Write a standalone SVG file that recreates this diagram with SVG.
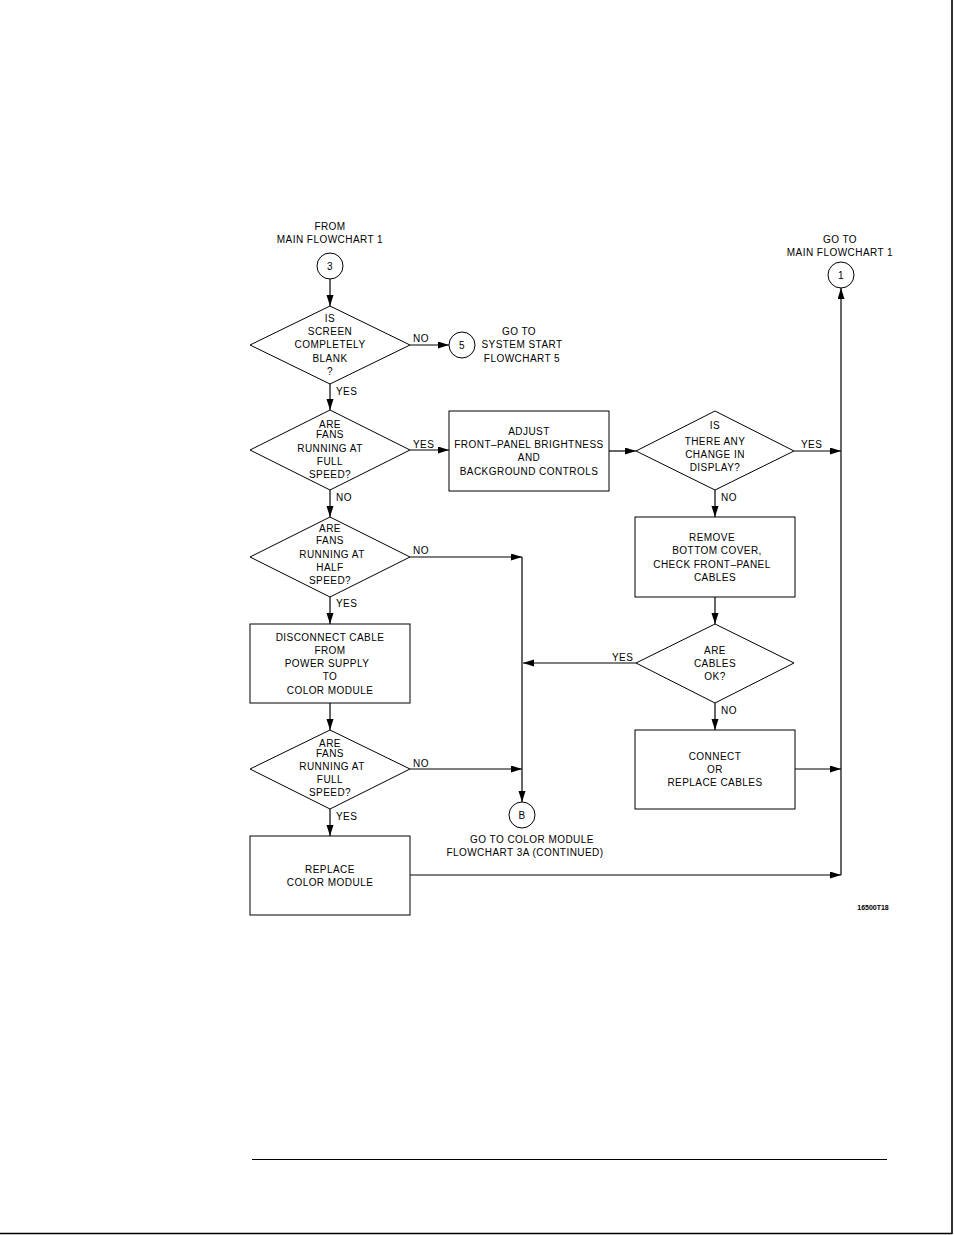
<svg xmlns="http://www.w3.org/2000/svg" width="954" height="1235" viewBox="0 0 954 1235">
<defs>
<marker id="ah" markerUnits="userSpaceOnUse" markerWidth="12" markerHeight="8" refX="11" refY="3.5" orient="auto">
<path d="M0,0 L11,3.5 L0,7 z" fill="#000"/>
</marker>
<style>
text{font-family:"Liberation Sans",Arial,sans-serif;font-size:10px;letter-spacing:0.45px;fill:#000;text-anchor:middle}
.lbl{text-anchor:start}
.shape{fill:#fff;stroke:#000;stroke-width:1}
.c{fill:none;stroke:#000;stroke-width:1.2}
.a{marker-end:url(#ah)}
.fig{font-size:7px;font-weight:bold;letter-spacing:0}
</style>
</defs>
<rect width="954" height="1235" fill="#fff"/>
<g id="page">
<line x1="952" y1="0" x2="952" y2="1234" stroke="#000" stroke-width="1.6"/>
<line x1="0" y1="1233.5" x2="952" y2="1233.5" stroke="#000" stroke-width="1.6"/>
<line x1="252" y1="1159.5" x2="887" y2="1159.5" stroke="#000" stroke-width="1.2"/>
</g>
<g id="connectors">
<line class="c a" x1="330" y1="279" x2="330" y2="306"/>
<line class="c a" x1="410" y1="345" x2="449" y2="345"/>
<line class="c a" x1="330" y1="384" x2="330" y2="410"/>
<line class="c a" x1="410" y1="450" x2="449" y2="450"/>
<line class="c a" x1="609" y1="451" x2="636" y2="451"/>
<line class="c a" x1="794" y1="451" x2="841" y2="451"/>
<line class="c a" x1="715" y1="490" x2="715" y2="517"/>
<line class="c a" x1="715" y1="597" x2="715" y2="624"/>
<line class="c a" x1="636" y1="663" x2="523" y2="663"/>
<line class="c a" x1="715" y1="703" x2="715" y2="730"/>
<line class="c a" x1="795" y1="769" x2="841" y2="769"/>
<line class="c a" x1="330" y1="490" x2="330" y2="517"/>
<line class="c a" x1="410" y1="557" x2="522" y2="557"/>
<line class="c a" x1="522" y1="557" x2="522" y2="802"/>
<line class="c a" x1="330" y1="597" x2="330" y2="624"/>
<line class="c a" x1="330" y1="703" x2="330" y2="730"/>
<line class="c a" x1="410" y1="769" x2="522" y2="769"/>
<line class="c a" x1="330" y1="809" x2="330" y2="836"/>
<line class="c a" x1="410" y1="875" x2="841" y2="875"/>
<line class="c a" x1="841" y1="875" x2="841" y2="288"/>
<text class="lbl" x="413" y="342">NO</text>
<text class="lbl" x="336" y="395">YES</text>
<text class="lbl" x="413" y="448">YES</text>
<text class="lbl" x="801" y="448">YES</text>
<text class="lbl" x="336" y="501">NO</text>
<text class="lbl" x="721" y="501">NO</text>
<text class="lbl" x="413" y="554">NO</text>
<text class="lbl" x="336" y="607">YES</text>
<text class="lbl" x="612" y="661">YES</text>
<text class="lbl" x="721" y="714">NO</text>
<text class="lbl" x="413" y="767">NO</text>
<text class="lbl" x="336" y="820">YES</text>
</g>
<g id="start3">
<text x="330" y="230">FROM</text>
<text x="330" y="243">MAIN FLOWCHART 1</text>
<circle class="shape" cx="330" cy="266" r="13"/>
<text x="330" y="270">3</text>
</g>
<g id="d1">
<polygon class="shape" points="330,306 410,345 330,384 250,345"/>
<text x="330" y="322">IS</text>
<text x="330" y="335">SCREEN</text>
<text x="330" y="348">COMPLETELY</text>
<text x="330" y="362">BLANK</text>
<text x="330" y="375">?</text>
</g>
<g id="goto5">
<circle class="shape" cx="462" cy="345" r="13"/>
<text x="462" y="349">5</text>
<text x="519" y="335">GO TO</text>
<text x="522" y="348">SYSTEM START</text>
<text x="522" y="362">FLOWCHART 5</text>
</g>
<g id="d2">
<polygon class="shape" points="330,410 410,450 330,490 250,450"/>
<text x="330" y="428">ARE</text>
<text x="330" y="438">FANS</text>
<text x="330" y="452">RUNNING AT</text>
<text x="330" y="465">FULL</text>
<text x="330" y="478">SPEED?</text>
</g>
<g id="adjust">
<rect class="shape" x="449" y="411" width="160" height="80"/>
<text x="529" y="435">ADJUST</text>
<text x="529" y="448">FRONT–PANEL BRIGHTNESS</text>
<text x="529" y="461">AND</text>
<text x="529" y="475">BACKGROUND CONTROLS</text>
</g>
<g id="d3">
<polygon class="shape" points="715,411 794,451 715,490 636,451"/>
<text x="715" y="429">IS</text>
<text x="715" y="445">THERE ANY</text>
<text x="715" y="458">CHANGE IN</text>
<text x="715" y="471">DISPLAY?</text>
</g>
<g id="goto1">
<text x="840" y="243">GO TO</text>
<text x="840" y="256">MAIN FLOWCHART 1</text>
<circle class="shape" cx="841" cy="275" r="13"/>
<text x="841" y="279">1</text>
</g>
<g id="remove">
<rect class="shape" x="635" y="517" width="160" height="80"/>
<text x="712" y="541">REMOVE</text>
<text x="717" y="554">BOTTOM COVER,</text>
<text x="712" y="568">CHECK FRONT–PANEL</text>
<text x="715" y="581">CABLES</text>
</g>
<g id="d4">
<polygon class="shape" points="715,624 794,663 715,703 636,663"/>
<text x="715" y="654">ARE</text>
<text x="715" y="667">CABLES</text>
<text x="715" y="680">OK?</text>
</g>
<g id="connect">
<rect class="shape" x="635" y="730" width="160" height="79"/>
<text x="715" y="760">CONNECT</text>
<text x="715" y="773">OR</text>
<text x="715" y="786">REPLACE CABLES</text>
</g>
<g id="d5">
<polygon class="shape" points="330,517 410,557 330,597 250,557"/>
<text x="330" y="532">ARE</text>
<text x="330" y="544">FANS</text>
<text x="332" y="558">RUNNING AT</text>
<text x="330" y="571">HALF</text>
<text x="330" y="584">SPEED?</text>
</g>
<g id="disconnect">
<rect class="shape" x="250" y="624" width="160" height="79"/>
<text x="330" y="641">DISCONNECT CABLE</text>
<text x="330" y="654">FROM</text>
<text x="327" y="667">POWER SUPPLY</text>
<text x="330" y="680">TO</text>
<text x="330" y="694">COLOR MODULE</text>
</g>
<g id="d6">
<polygon class="shape" points="330,730 410,769 330,809 250,769"/>
<text x="330" y="747">ARE</text>
<text x="330" y="757">FANS</text>
<text x="332" y="770">RUNNING AT</text>
<text x="330" y="783">FULL</text>
<text x="330" y="796">SPEED?</text>
</g>
<g id="gotoB">
<circle class="shape" cx="522" cy="815" r="13"/>
<text x="522" y="819">B</text>
<text x="532" y="843">GO TO COLOR MODULE</text>
<text x="525" y="856">FLOWCHART 3A (CONTINUED)</text>
</g>
<g id="replace">
<rect class="shape" x="250" y="836" width="160" height="79"/>
<text x="330" y="873">REPLACE</text>
<text x="330" y="886">COLOR MODULE</text>
</g>
<text class="fig" x="873" y="910">16500T18</text>
</svg>
